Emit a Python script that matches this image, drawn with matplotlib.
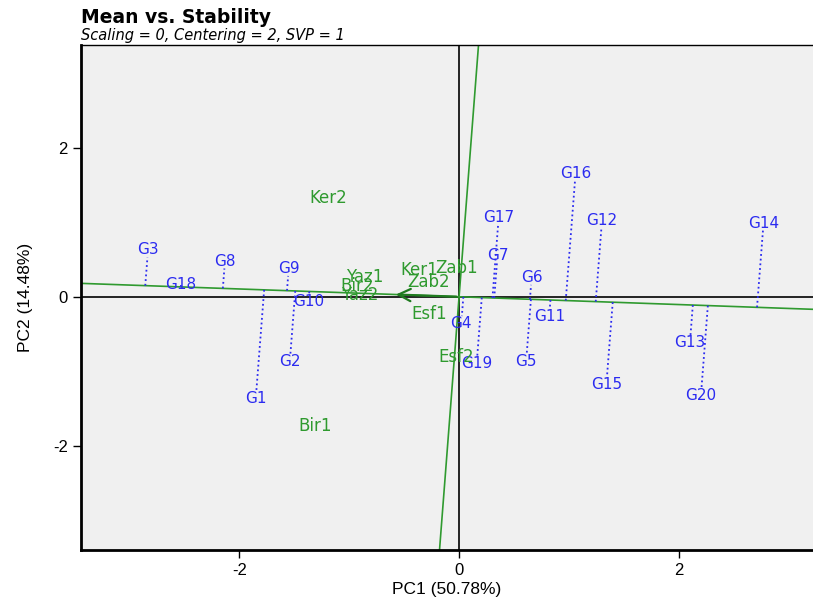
import numpy as np
import matplotlib.pyplot as plt

plt.rcParams['font.family'] = ['Liberation Sans', 'DejaVu Sans']
plt.rcParams['axes.unicode_minus'] = False

# environment scores (PC1, PC2)
env_names = ["Ker2", "Bir1", "Yaz1", "Bir2", "Yaz2", "Ker1", "Zab1", "Zab2", "Esf1", "Esf2"]
env_pc1 = [-1.19, -1.31, -0.86, -0.93, -0.90, -0.36, -0.02, -0.28, -0.27, -0.03]
env_pc2 = [1.32, -1.73, 0.27, 0.15, 0.03, 0.36, 0.39, 0.20, -0.23, -0.81]

# genotype scores (PC1, PC2)
gen_names = ["G1", "G2", "G3", "G4", "G5", "G6", "G7", "G8", "G9", "G10",
             "G11", "G12", "G13", "G14", "G15", "G16", "G17", "G18", "G19", "G20"]
gen_pc1 = [-1.85, -1.54, -2.83, 0.02, 0.61, 0.66, 0.35, -2.13, -1.55, -1.37,
           0.82, 1.30, 2.10, 2.77, 1.34, 1.06, 0.36, -2.53, 0.16, 2.20]
gen_pc2 = [-1.37, -0.87, 0.63, -0.36, -0.87, 0.26, 0.56, 0.48, 0.38, -0.07,
           -0.26, 1.02, -0.62, 0.99, -1.18, 1.66, 1.06, 0.17, -0.90, -1.33]

# average environment (arrow end) on the ATA
ata_point = (-0.60, 0.0314)

green = "#2f9a2f"
blue = "#2b2bf0"
wide = "DejaVu Sans"

fig = plt.figure(figsize=(8.13, 6.05), dpi=100)
ax = fig.add_axes([0.0996, 0.0909, 0.9004, 0.8347])
ax.set_facecolor("#f0f0f0")
ax.set_xlim(-3.44, 3.22)
ax.set_ylim(-3.40, 3.38)

# axes through origin
ax.axhline(0, color="black", lw=1.2, zorder=1)
ax.axvline(0, color="black", lw=1.2, zorder=1)

# average tester axis and its perpendicular
u = np.array(ata_point) / np.hypot(*ata_point)
t = np.linspace(-10, 10, 2)
ax.plot(t * u[0], t * u[1], color=green, lw=1.2, zorder=2)
ax.plot(-t * u[1], t * u[0], color=green, lw=1.2, zorder=2)
ax.annotate("", xy=ata_point, xytext=(0, 0),
            arrowprops=dict(arrowstyle="->", color="#1f7a1f", lw=1.6,
                            mutation_scale=22), zorder=3)

# genotype projections
for name, x, y in zip(gen_names, gen_pc1, gen_pc2):
    p = np.array([x, y])
    proj = np.dot(p, u) * u
    d = p - proj
    shrink = 0.10 / abs(d[1]) if abs(d[1]) > 0.1 else 0
    end = p - d * shrink
    ax.plot([proj[0], end[0]], [proj[1], end[1]], color=blue, lw=1.3,
            ls=(0, (1, 1.6)), zorder=2)
    ax.text(x, y, name, color=blue, fontsize=11, family=wide,
            ha="center", va="center", zorder=4)

for name, x, y in zip(env_names, env_pc1, env_pc2):
    ax.text(x, y, name, color=green, fontsize=12, family=wide,
            ha="center", va="center", zorder=4)

ax.set_xticks([-2, 0, 2])
ax.set_yticks([-2, 0, 2])
ax.tick_params(labelsize=12, length=6, width=1, direction="out")
for s in ["left", "bottom"]:
    ax.spines[s].set_linewidth(2)
ax.spines["top"].set_linewidth(1)
ax.spines["right"].set_visible(False)
ax.set_xlabel("PC1 (50.78%)", fontsize=12.5, labelpad=3)
ax.set_ylabel("PC2 (14.48%)", fontsize=12.5, labelpad=14)

fig.text(0.0996, 0.962, "Mean vs. Stability", fontsize=13.5, fontweight="bold",
         family=wide, ha="left", va="baseline")
fig.text(0.0996, 0.934, "Scaling = 0, Centering = 2, SVP = 1", fontsize=10.5,
         style="italic", family=wide, ha="left", va="baseline")

fig.savefig("out.png", dpi=100)
